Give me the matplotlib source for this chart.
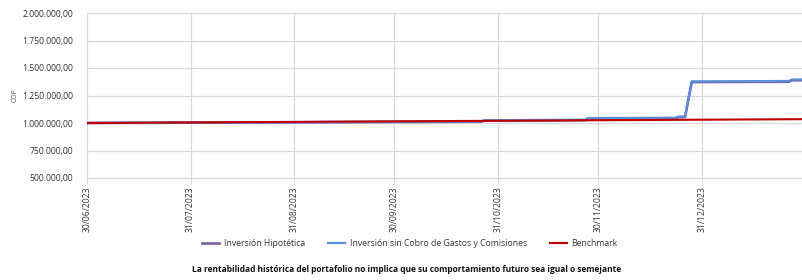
import matplotlib
matplotlib.use("Agg")
import matplotlib.pyplot as plt
import matplotlib.dates as mdates
import matplotlib.ticker as mticker
import numpy as np
from datetime import datetime

# ---- data ----
bench_dates = ["2023-06-30", "2023-07-31", "2023-08-31", "2023-09-30", "2023-10-31",
               "2023-11-30", "2023-12-31", "2024-01-31"]
bench_values = [1000000, 1005000, 1010000, 1015000, 1020000, 1025000, 1030000, 1035000]

sin_cobro_dates = ["2023-06-30", "2023-07-31", "2023-08-31", "2023-09-30", "2023-10-26",
                   "2023-10-27", "2023-11-26", "2023-11-27", "2023-12-23", "2023-12-24",
                   "2023-12-26", "2023-12-28", "2024-01-26", "2024-01-27", "2024-01-31"]
sin_cobro_values = [1000000, 1004000, 1008000, 1012000, 1016000,
                    1025000, 1030000, 1045000, 1048000, 1058000,
                    1060000, 1378000, 1382000, 1395000, 1396000]

hipotetica_dates = sin_cobro_dates
hipotetica_values = [1000000, 1003000, 1006000, 1009000, 1012000,
                     1021000, 1025000, 1040000, 1042000, 1052000,
                     1054000, 1372000, 1375000, 1388000, 1389000]

tick_dates = ["2023-06-30", "2023-07-31", "2023-08-31", "2023-09-30",
              "2023-10-31", "2023-11-30", "2023-12-31"]
y_ticks = [500000, 750000, 1000000, 1250000, 1500000, 1750000, 2000000]

series_names = ["Inversión Hipotética", "Inversión sin Cobro de Gastos y Comisiones", "Benchmark"]
footer = "La rentabilidad histórica del portafolio no implica que su comportamiento futuro sea igual o semejante"

def d(lst):
    return [datetime.strptime(s, "%Y-%m-%d") for s in lst]

plt.rcParams['font.family'] = ['Open Sans', 'DejaVu Sans']

fig = plt.figure(figsize=(8.03, 2.80), dpi=100)
ax = fig.add_axes([87/803, 1-178/280, 1-87/803, 165/280])

ax.plot(d(hipotetica_dates), hipotetica_values, color="#7B5EA7", lw=1.9, label=series_names[0], zorder=3)
ax.plot(d(sin_cobro_dates), sin_cobro_values, color="#5B8ED8", lw=1.6, label=series_names[1], zorder=4)
ax.plot(d(bench_dates), bench_values, color="#C00000", lw=1.5, label=series_names[2], zorder=5)

ax.set_ylim(500000, 2000000)
ax.set_yticks(y_ticks)
def fmt(v, pos):
    s = f"{int(round(v)):,}".replace(",", ".")
    return s + ",00"
ax.yaxis.set_major_formatter(mticker.FuncFormatter(fmt))

xt = d(tick_dates)
ax.set_xticks(xt)
ax.set_xticklabels([t.strftime("%d/%m/%Y") for t in xt], rotation=90, fontsize=6.2, color="#333333")
left = mdates.date2num(datetime(2023, 6, 30))
ax.set_xlim(left, left + 214.3)

ax.tick_params(axis='y', length=0, labelsize=6.2, labelcolor="#333333", pad=10)
ax.tick_params(axis='x', length=4, color="#D9D9D9", pad=2)
ax.grid(True, color="#D9D9D9", lw=0.9)
for gl in ax.get_xgridlines() + ax.get_ygridlines():
    gl.set_clip_on(False)
ax.set_axisbelow(True)
for s in ax.spines.values():
    s.set_visible(False)

ax.set_ylabel("COP", fontsize=5, color="#44546A", labelpad=10)
ax.yaxis.set_label_coords(-0.095, 0.5)

leg = fig.legend(loc="center", bbox_to_anchor=(410/803, 1-244/280), ncol=3, frameon=False,
                 fontsize=6.2, handlelength=2.0, columnspacing=2.7, handletextpad=0.5)
for t in leg.get_texts():
    t.set_color("#333333")

fig.text(407/803, 1-269/280, footer, ha="center", va="center", fontsize=6, fontweight="bold", color="#111111")

fig.savefig("out.png", dpi=100)
